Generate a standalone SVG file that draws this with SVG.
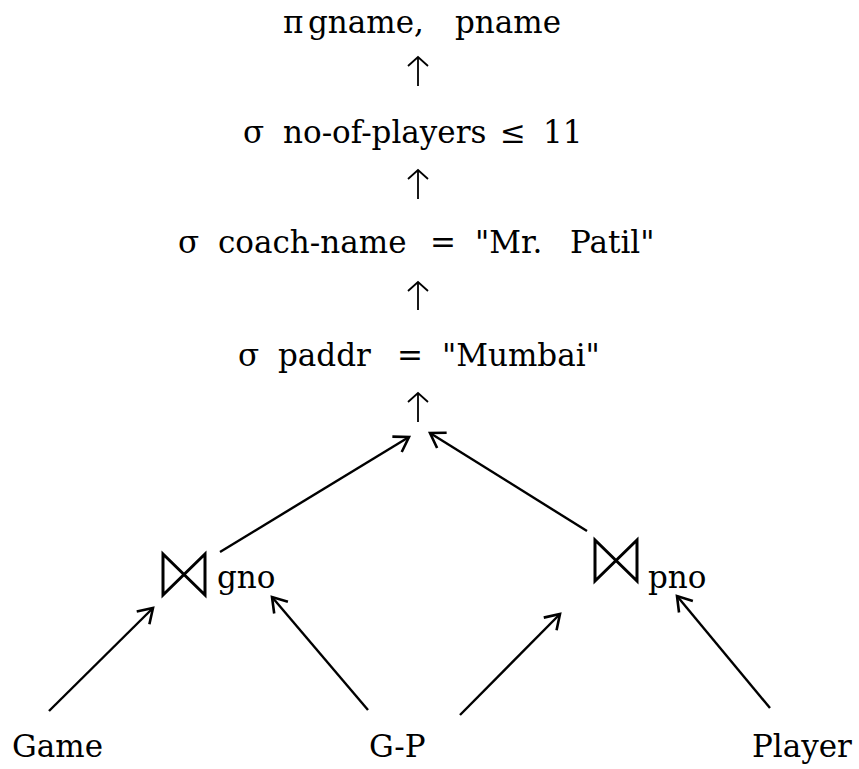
<svg xmlns="http://www.w3.org/2000/svg" width="859" height="769" viewBox="0 0 859 769">
<style>
  .t { font-family: "DejaVu Serif", "Liberation Serif", serif; font-size: 31px; fill: #000; }
  .bowtie { stroke: #000; stroke-width: 3; fill: none; stroke-linejoin: miter; }
  .edge { stroke: #000; stroke-width: 2.4; fill: none; }
  .up { stroke: #000; stroke-width: 1.8; fill: none; }
</style>
<defs>
  <marker id="head" markerUnits="userSpaceOnUse" markerWidth="30" markerHeight="30" refX="0" refY="0" viewBox="-20 -15 30 30" orient="auto" overflow="visible">
    <path d="M -14,-9 L 0,0 L -14,9" fill="none" stroke="#000" stroke-width="2.6"/>
  </marker>
  <marker id="head-s" markerUnits="userSpaceOnUse" markerWidth="30" markerHeight="30" refX="0" refY="0" viewBox="-20 -15 30 30" orient="auto" overflow="visible">
    <path d="M -9,-10 L 0,0 L -9,10" fill="none" stroke="#000" stroke-width="1.8"/>
  </marker>
  <path id="bt" d="M 0,0 L 0,41 L 42,0 L 42,41 Z" class="bowtie"/>
</defs>
<rect width="859" height="769" fill="#fff"/>

<g id="connectors">
  <line class="up" x1="418" y1="86" x2="418" y2="57" marker-end="url(#head-s)"/>
  <line class="up" x1="418" y1="199" x2="418" y2="170" marker-end="url(#head-s)"/>
  <line class="up" x1="418" y1="310" x2="418" y2="282" marker-end="url(#head-s)"/>
  <line class="up" x1="418" y1="422" x2="418" y2="393" marker-end="url(#head-s)"/>
  <line class="edge" x1="220" y1="552" x2="409" y2="437" marker-end="url(#head)"/>
  <line class="edge" x1="587" y1="531" x2="430" y2="433" marker-end="url(#head)"/>
  <line class="edge" x1="49" y1="711" x2="153" y2="608" marker-end="url(#head)"/>
  <line class="edge" x1="368" y1="710" x2="272" y2="597" marker-end="url(#head)"/>
  <line class="edge" x1="460" y1="715" x2="560" y2="614" marker-end="url(#head)"/>
  <line class="edge" x1="770" y1="708" x2="677" y2="596" marker-end="url(#head)"/>
</g>

<g id="project">
  <text class="t" y="33"><tspan x="283">π</tspan><tspan x="308">gname,</tspan><tspan x="455">pname</tspan></text>
</g>
<g id="select-players">
  <text class="t" y="143"><tspan x="243">σ</tspan><tspan x="283">no-of-players</tspan><tspan x="500">≤</tspan><tspan x="543">11</tspan></text>
</g>
<g id="select-coach">
  <text class="t" y="253"><tspan x="178">σ</tspan><tspan x="218">coach-name</tspan><tspan x="430">=</tspan><tspan x="475">"Mr.</tspan><tspan x="570">Patil"</tspan></text>
</g>
<g id="select-paddr">
  <text class="t" y="366"><tspan x="238">σ</tspan><tspan x="278">paddr</tspan><tspan x="397">=</tspan><tspan x="442">"Mumbai"</tspan></text>
</g>
<g id="join-gno">
  <use href="#bt" x="163" y="554"/>
  <text class="t" x="217" y="588">gno</text>
</g>
<g id="join-pno">
  <use href="#bt" x="595" y="540"/>
  <text class="t" x="648" y="588">pno</text>
</g>
<g id="game">
  <text class="t" x="12" y="757">Game</text>
</g>
<g id="gp">
  <text class="t" x="369" y="757">G-P</text>
</g>
<g id="player">
  <text class="t" x="752" y="757">Player</text>
</g>
</svg>
